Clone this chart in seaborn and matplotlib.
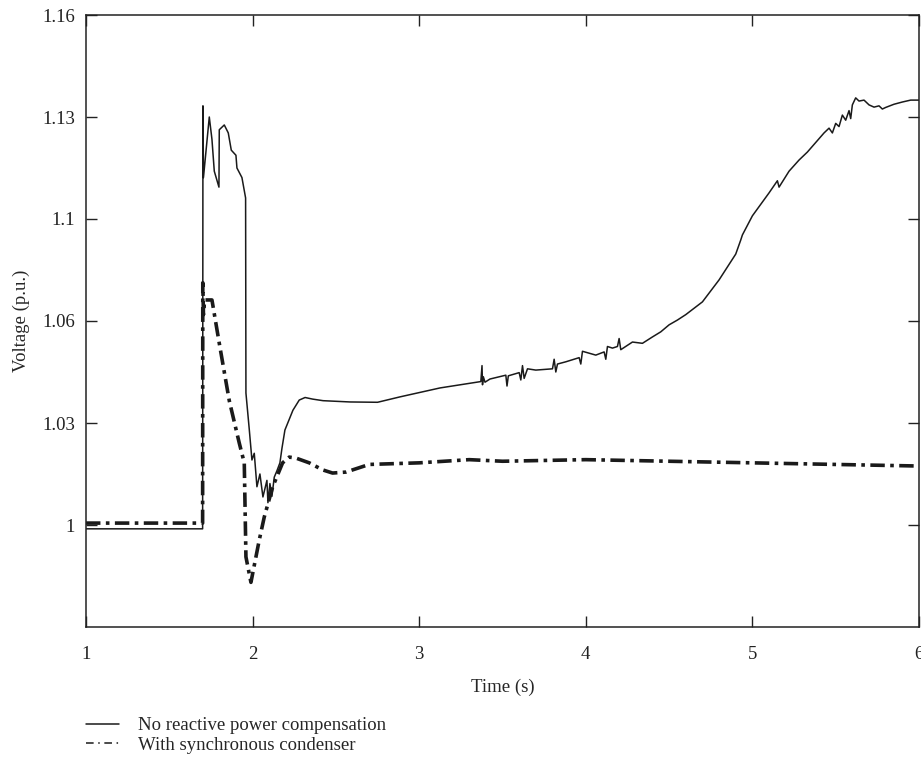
import matplotlib
matplotlib.use("Agg")
import matplotlib.pyplot as plt
import seaborn as sns
import numpy as np
import pandas as pd

# no compensation (solid)
t_plain = [1.0, 1.700, 1.702, 1.705, 1.740, 1.756, 1.770, 1.798, 1.800, 1.830,
           1.854, 1.872, 1.900, 1.906, 1.936, 1.958, 1.960, 1.980, 1.996, 2.010,
           2.026, 2.044, 2.062, 2.086, 2.092, 2.104, 2.116, 2.130, 2.146, 2.164,
           2.176, 2.194, 2.242, 2.280, 2.315, 2.360, 2.423, 2.585, 2.750, 2.885,
           3.125, 3.370, 3.377, 3.380, 3.385, 3.395, 3.425, 3.520, 3.527, 3.535,
           3.600, 3.610, 3.620, 3.630, 3.650, 3.700, 3.800, 3.810, 3.820, 3.830,
           3.880, 3.960, 3.970, 3.980, 4.060, 4.110, 4.120, 4.130, 4.160, 4.190,
           4.200, 4.210, 4.280, 4.340, 4.400, 4.450, 4.500, 4.550, 4.600, 4.700,
           4.800, 4.900, 4.930, 4.940, 5.000, 5.100, 5.150, 5.160, 5.220, 5.280,
           5.330, 5.380, 5.430, 5.460, 5.480, 5.500, 5.520, 5.540, 5.560, 5.580,
           5.590, 5.600, 5.620, 5.640, 5.670, 5.700, 5.730, 5.760, 5.780, 5.800,
           5.850, 5.900, 5.950, 6.0]
v_plain = [0.9988, 0.9988, 1.1315, 1.109, 1.128, 1.121, 1.111, 1.106, 1.124, 1.1255,
           1.123, 1.1176, 1.116, 1.112, 1.109, 1.1026, 1.0414, 1.030, 1.0204, 1.0225,
           1.012, 1.016, 1.0088, 1.014, 1.007, 1.013, 1.009, 1.015, 1.017, 1.0195,
           1.024, 1.0298, 1.036, 1.0392, 1.040, 1.0395, 1.039, 1.0386, 1.0385, 1.0402,
           1.043, 1.0450, 1.0500, 1.0440, 1.0465, 1.0448, 1.0458, 1.0470, 1.0436, 1.0468,
           1.0478, 1.0455, 1.0500, 1.0460, 1.0490, 1.0486, 1.0490, 1.0520, 1.0480, 1.0505,
           1.0512, 1.0525, 1.0505, 1.0545, 1.0533, 1.0543, 1.0520, 1.0560, 1.0555, 1.0560,
           1.0585, 1.0550, 1.0574, 1.0570, 1.0590, 1.0606, 1.0628, 1.0643, 1.0660, 1.0700,
           1.0769, 1.0850, 1.0894, 1.0910, 1.0970, 1.1042, 1.1080, 1.1060, 1.1110, 1.1145,
           1.1170, 1.1200, 1.1230, 1.1245, 1.1230, 1.1260, 1.1250, 1.1286, 1.1270, 1.1300,
           1.1275, 1.1318, 1.1340, 1.1330, 1.1333, 1.1318, 1.1311, 1.1315, 1.1305, 1.1310,
           1.1320, 1.1327, 1.1333, 1.1333]

# with synchronous condenser (dash-dot)
t_sc = [1.0, 1.700, 1.701, 1.705, 1.712, 1.756, 1.800, 1.860, 1.920, 1.950,
        1.960, 1.990, 2.040, 2.070, 2.120, 2.180, 2.220, 2.260, 2.340, 2.420,
        2.480, 2.560, 2.700, 3.000, 3.300, 3.500, 4.000, 4.500, 5.000, 5.500, 6.0]
v_sc = [1.0006, 1.0006, 1.076, 1.066, 1.0706, 1.0706, 1.057, 1.039, 1.0257, 1.0195,
        0.990, 0.982, 0.9953, 1.0025, 1.0119, 1.0195, 1.0213, 1.021, 1.0195, 1.0173,
        1.0163, 1.0166, 1.019, 1.0195, 1.0205, 1.0200, 1.0205, 1.0200, 1.0195, 1.0190, 1.0185]

y_ticks = [1.0, 1.032, 1.064, 1.096, 1.128, 1.16]
y_ticklabels = ["1", "1.03", "1.06", "1.1", "1.13", "1.16"]
x_ticks = [1, 2, 3, 4, 5, 6]

sns.set_style("ticks")
plt.rcParams['font.family'] = ['Liberation Serif', 'DejaVu Serif']

fig = plt.figure(figsize=(9.21, 7.71), dpi=100)
ax = fig.add_axes([86 / 921, 1 - 627 / 771, 833 / 921, 612 / 771])

df_plain = pd.DataFrame({'t': t_plain, 'v': v_plain})
df_sc = pd.DataFrame({'t': t_sc, 'v': v_sc})

sns.lineplot(data=df_plain, x='t', y='v', sort=False, estimator=None, ax=ax,
             color='#1a1a1a', linewidth=1.1, label='No reactive power compensation')
sns.lineplot(data=df_sc, x='t', y='v', sort=False, estimator=None, ax=ax,
             color='#1a1a1a', linewidth=2.6, linestyle=(0, (4, 1.5, 1, 1.5)),
             label='With synchronous condenser')

ax.set_xlim(1, 6)
ax.set_ylim(0.968, 1.16)
ax.set_xticks(x_ticks)
ax.set_xticklabels([str(x) for x in x_ticks])
ax.set_yticks(y_ticks)
ax.set_yticklabels(y_ticklabels)
ax.tick_params(direction='in', length=8, width=1, top=True, right=True,
               labelsize=13.5, colors='#222222', pad=8)
ax.tick_params(axis='x', pad=14)
for sp in ax.spines.values():
    sp.set_linewidth(1.1)
    sp.set_color('#222222')

ax.set_xlabel('Time (s)', fontsize=13.5, labelpad=11)
ax.set_ylabel('Voltage (p.u.)', fontsize=13.5, labelpad=9)

handles, labels = ax.get_legend_handles_labels()
ax.get_legend().remove()
leg_handles = [plt.Line2D([], [], color='#1a1a1a', linewidth=1.1),
               plt.Line2D([], [], color='#1a1a1a', linewidth=1.1,
                          linestyle=(0, (5, 3, 1, 3)))]
fig.legend(leg_handles, labels, loc='upper left',
           bbox_to_anchor=(86 / 921, 1 - 717 / 771), frameon=False,
           fontsize=13.5, handlelength=1.75, handletextpad=1.0, labelspacing=0.12,
           borderaxespad=0, borderpad=0)

fig.savefig('out.png', dpi=100)
